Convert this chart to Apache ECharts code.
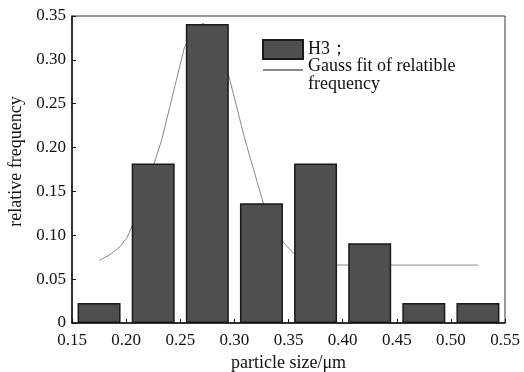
<!DOCTYPE html>
<html>
<head>
<meta charset="utf-8">
<script src="https://cdn.jsdelivr.net/npm/echarts@6/dist/echarts.min.js"></script>
<style>html,body{margin:0;padding:0;background:#fff;}#c{width:524px;height:372px;}</style>
</head>
<body>
<div id="c"></div>
<script>
// bin centres (particle size, µm) and relative frequency
const binCenters = [0.175, 0.225, 0.275, 0.325, 0.375, 0.425, 0.475, 0.525];
const relFreq = [0.0227, 0.1818, 0.3409, 0.1364, 0.1818, 0.0909, 0.0227, 0.0227];
// Gauss fit curve
const gaussX = [0.1752, 0.1851, 0.1943, 0.2008, 0.2052, 0.226, 0.2329, 0.254, 0.271, 0.295, 0.3098, 0.3267, 0.3452, 0.3544, 0.375, 0.3948, 0.525];
const gaussY = [0.0714, 0.0779, 0.0870, 0.0973, 0.1095, 0.1824, 0.209, 0.315, 0.342, 0.2812, 0.209, 0.1368, 0.0919, 0.0798, 0.069, 0.0661, 0.066];
const xTicks = ['0.15','0.20','0.25','0.30','0.35','0.40','0.45','0.50','0.55'];
const yTicks = ['0','0.05','0.10','0.15','0.20','0.25','0.30','0.35'];
const barName = 'H3；';
const lineName = 'Gauss fit of relatible frequency';
const lineLegendLines = ['Gauss fit of relatible', 'frequency'];

const font = 'Liberation Serif';
const chart = echarts.init(document.getElementById('c'), null, {renderer: 'canvas'});
chart.setOption({
  animation: false,
  backgroundColor: '#fff',
  textStyle: {fontFamily: font, color: '#111'},
  grid: {left: 72, right: 19, top: 16, bottom: 49, show: true, borderColor: '#333', borderWidth: 1,
    containLabel: false, outerBoundsMode: 'none'},
  legend: {
    left: 262, top: 39, orient: 'vertical', padding: 0, itemGap: -10,
    itemWidth: 40, itemHeight: 19,
    textStyle: {fontFamily: font, fontSize: 18, color: '#111',
      rich: {
        s: {fontSize: 4, lineHeight: 10},
        a: {fontFamily: font, fontSize: 18, lineHeight: 18, color: '#111'}
      }
    },
    formatter: (name) => name === lineName
      ? '{s| }\n{a|' + lineLegendLines[0] + '}\n{a|' + lineLegendLines[1] + '}'
      : name,
    data: [
      {name: barName, icon: 'rect'},
      {name: lineName, itemStyle: {opacity: 0}}
    ]
  },
  xAxis: {
    type: 'value', min: 0.15, max: 0.55, interval: 0.05,
    name: 'particle size/μm', nameLocation: 'middle', nameGap: 25,
    nameTextStyle: {fontFamily: font, fontSize: 18, color: '#111'},
    axisLine: {show: true, lineStyle: {color: '#111', width: 1.5}},
    axisTick: {show: true, inside: true, length: 4, lineStyle: {color: '#111'}},
    axisLabel: {fontFamily: font, fontSize: 17, color: '#111', margin: 9,
      formatter: (v) => xTicks[Math.round((v - 0.15) / 0.05)]},
    splitLine: {show: false}
  },
  yAxis: {
    type: 'value', min: 0, max: 0.35, interval: 0.05,
    name: 'relative frequency', nameLocation: 'middle', nameGap: 47,
    nameTextStyle: {fontFamily: font, fontSize: 18, color: '#111', padding: [0, 0, 0, 16]},
    axisLine: {show: true, lineStyle: {color: '#111', width: 1.5}},
    axisTick: {show: true, inside: true, length: 4, lineStyle: {color: '#111'}},
    axisLabel: {fontFamily: font, fontSize: 17, color: '#111', margin: 6,
      formatter: (v) => yTicks[Math.round(v / 0.05)]},
    splitLine: {show: false}
  },
  series: [
    {
      name: lineName, type: 'line', z: 1, symbol: 'none', smooth: false,
      lineStyle: {color: '#8a8a8a', width: 1},
      itemStyle: {color: '#8a8a8a'},
      data: gaussX.map((x, i) => [x, gaussY[i]])
    },
    {
      name: barName, type: 'bar', z: 2, barWidth: 43,
      itemStyle: {color: '#4f4f4f', borderColor: '#1a1a1a', borderWidth: 1.5},
      data: binCenters.map((x, i) => [x, relFreq[i]])
    }
  ]
});
</script>
</body>
</html>
